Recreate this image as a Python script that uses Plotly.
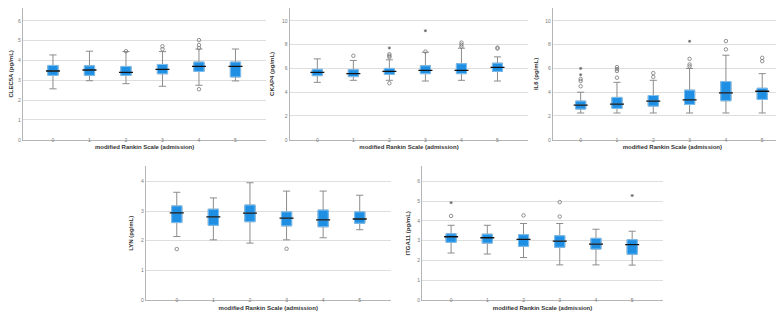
import plotly.graph_objects as go

CATS = [0, 1, 2, 3, 4, 5]
TICK_LABELS = ["0", "1", "2", "3", "4", "5"]
X_TITLE = "modified Rankin Scale (admission)"

# CLEC5A
CLEC5A_LO = [2.57, 2.98, 2.83, 2.70, 2.75, 2.97]
CLEC5A_Q1 = [3.25, 3.25, 3.25, 3.33, 3.45, 3.17]
CLEC5A_MED = [3.47, 3.52, 3.40, 3.55, 3.70, 3.70]
CLEC5A_Q3 = [3.75, 3.73, 3.70, 3.80, 3.92, 3.92]
CLEC5A_HI = [4.28, 4.47, 4.45, 4.45, 4.58, 4.58]
CLEC5A_OUT_X = [2, 3, 3, 4, 4, 4, 4]
CLEC5A_OUT_Y = [4.47, 4.72, 4.57, 5.03, 4.78, 4.63, 2.55]
CLEC5A_EXT_X = []
CLEC5A_EXT_Y = []

# CKAP4
CKAP4_LO = [4.83, 5.00, 5.00, 4.94, 5.00, 4.94]
CKAP4_Q1 = [5.39, 5.31, 5.50, 5.56, 5.56, 5.75]
CKAP4_MED = [5.67, 5.56, 5.75, 5.83, 5.83, 6.08]
CKAP4_Q3 = [5.92, 5.89, 6.00, 6.22, 6.39, 6.44]
CKAP4_HI = [6.80, 6.67, 6.72, 7.36, 7.70, 6.97]
CKAP4_OUT_X = [1, 2, 2, 2, 2, 3, 4, 4, 4, 5, 5]
CKAP4_OUT_Y = [7.06, 7.19, 7.06, 6.94, 4.75, 7.42, 8.17, 8.00, 7.83, 7.75, 7.67]
CKAP4_EXT_X = [2, 3]
CKAP4_EXT_Y = [7.72, 9.17]

# IL6
IL6_LO = [2.25, 2.25, 2.25, 2.25, 2.25, 2.25]
IL6_Q1 = [2.58, 2.64, 2.83, 2.97, 3.28, 3.39]
IL6_MED = [2.92, 3.00, 3.25, 3.36, 3.94, 4.08]
IL6_Q3 = [3.25, 3.56, 3.72, 4.17, 4.89, 4.33]
IL6_HI = [4.00, 4.83, 5.00, 6.00, 7.11, 5.56]
IL6_OUT_X = [0, 0, 0, 1, 1, 1, 1, 2, 2, 3, 3, 3, 4, 4, 5, 5]
IL6_OUT_Y = [5.11, 4.94, 4.50, 6.11, 5.94, 5.78, 5.22, 5.61, 5.28, 6.80, 6.33, 6.17, 8.30, 7.60, 6.89, 6.61]
IL6_EXT_X = [0, 0, 3]
IL6_EXT_Y = [6.00, 5.47, 8.28]

# LYN
LYN_LO = [2.14, 2.03, 1.92, 2.03, 2.10, 2.37]
LYN_Q1 = [2.61, 2.52, 2.64, 2.50, 2.47, 2.59]
LYN_MED = [2.94, 2.80, 2.93, 2.76, 2.70, 2.73]
LYN_Q3 = [3.17, 3.06, 3.20, 2.97, 3.03, 2.97]
LYN_HI = [3.63, 3.44, 3.95, 3.67, 3.67, 3.53]
LYN_OUT_X = [0, 3]
LYN_OUT_Y = [1.72, 1.73]
LYN_EXT_X = []
LYN_EXT_Y = []

# ITGA11
ITGA11_LO = [2.38, 2.33, 2.15, 1.78, 1.78, 1.77]
ITGA11_Q1 = [2.92, 2.88, 2.72, 2.67, 2.58, 2.32]
ITGA11_MED = [3.20, 3.15, 3.07, 2.98, 2.83, 2.80]
ITGA11_Q3 = [3.35, 3.33, 3.30, 3.25, 3.12, 3.05]
ITGA11_HI = [3.78, 3.78, 3.87, 3.87, 3.58, 3.48]
ITGA11_OUT_X = [0, 2, 3, 3]
ITGA11_OUT_Y = [4.25, 4.28, 4.95, 4.22]
ITGA11_EXT_X = [0, 5]
ITGA11_EXT_Y = [4.92, 5.28]

panels = [
    dict(title="CLEC5A (pg/mL)", lo=CLEC5A_LO, q1=CLEC5A_Q1, med=CLEC5A_MED, q3=CLEC5A_Q3, hi=CLEC5A_HI,
         ox=CLEC5A_OUT_X, oy=CLEC5A_OUT_Y, ex=CLEC5A_EXT_X, ey=CLEC5A_EXT_Y,
         xdom=[0.0162, 0.328], ydom=[0.575, 1.0], xr=[-0.83, 5.85], yr=[0, 6.65], yt=[0, 1, 2, 3, 4, 5, 6]),
    dict(title="CKAP4 (pg/mL)", lo=CKAP4_LO, q1=CKAP4_Q1, med=CKAP4_MED, q3=CKAP4_Q3, hi=CKAP4_HI,
         ox=CKAP4_OUT_X, oy=CKAP4_OUT_Y, ex=CKAP4_EXT_X, ey=CKAP4_EXT_Y,
         xdom=[0.3575, 0.663], ydom=[0.575, 1.0], xr=[-0.77, 5.86], yr=[0, 11.08], yt=[0, 2, 4, 6, 8, 10]),
    dict(title="IL6 (pg/mL)", lo=IL6_LO, q1=IL6_Q1, med=IL6_MED, q3=IL6_Q3, hi=IL6_HI,
         ox=IL6_OUT_X, oy=IL6_OUT_Y, ex=IL6_EXT_X, ey=IL6_EXT_Y,
         xdom=[0.694, 1.0], ydom=[0.575, 1.0], xr=[-0.77, 5.82], yr=[0, 11.08], yt=[0, 2, 4, 6, 8, 10]),
    dict(title="LYN (pg/mL)", lo=LYN_LO, q1=LYN_Q1, med=LYN_MED, q3=LYN_Q3, hi=LYN_HI,
         ox=LYN_OUT_X, oy=LYN_OUT_Y, ex=LYN_EXT_X, ey=LYN_EXT_Y,
         xdom=[0.1735, 0.487], ydom=[0.0575, 0.489], xr=[-0.85, 5.85], yr=[0, 4.5], yt=[0, 1, 2, 3, 4]),
    dict(title="ITGA11 (pg/mL)", lo=ITGA11_LO, q1=ITGA11_Q1, med=ITGA11_MED, q3=ITGA11_Q3, hi=ITGA11_HI,
         ox=ITGA11_OUT_X, oy=ITGA11_OUT_Y, ex=ITGA11_EXT_X, ey=ITGA11_EXT_Y,
         xdom=[0.527, 0.835], ydom=[0.0575, 0.489], xr=[-0.8, 5.85], yr=[0, 6.75], yt=[0, 1, 2, 3, 4, 5, 6]),
]

BOX_FILL = "#1f8fe3"
BOX_EDGE = "#7dc0f2"
WHISK = "#8c8c8c"
GRID = "#dedede"
AXIS = "#b5b5b5"
TICKF = dict(family="Liberation Sans, Arial", size=5, color="#7a7a7a")
TITLEF = dict(family="Liberation Sans, Arial", size=6, color="#333333")

fig = go.Figure()
layout = {}
for i, p in enumerate(panels):
    n = "" if i == 0 else str(i + 1)
    xa, ya = "x" + n, "y" + n
    # whiskers and caps (gray)
    fig.add_trace(go.Box(
        x=CATS, q1=p["q1"], median=p["med"], q3=p["q3"],
        lowerfence=p["lo"], upperfence=p["hi"],
        fillcolor=BOX_FILL, line=dict(color=WHISK, width=1),
        width=0.28, whiskerwidth=0.7, boxpoints=False, hoverinfo="skip",
        xaxis=xa, yaxis=ya, showlegend=False))
    # box body on top (blue with light-blue edge)
    fig.add_trace(go.Box(
        x=CATS, q1=p["q1"], median=p["med"], q3=p["q3"],
        lowerfence=p["q1"], upperfence=p["q3"],
        fillcolor=BOX_FILL, line=dict(color=BOX_EDGE, width=1),
        width=0.28, whiskerwidth=0, boxpoints=False, hoverinfo="skip",
        xaxis=xa, yaxis=ya, showlegend=False))
    fig.add_trace(go.Scatter(
        x=CATS, y=p["med"], mode="markers",
        marker=dict(symbol="line-ew", size=10, line=dict(color="#111111", width=1.3)),
        xaxis=xa, yaxis=ya, showlegend=False, hoverinfo="skip"))
    fig.add_trace(go.Scatter(
        x=p["ox"], y=p["oy"], mode="markers",
        marker=dict(symbol="circle-open", size=3.5, color="#777777", line=dict(width=0.8)),
        xaxis=xa, yaxis=ya, showlegend=False, hoverinfo="skip"))
    fig.add_trace(go.Scatter(
        x=p["ex"], y=p["ey"], mode="markers",
        marker=dict(symbol="asterisk-open", size=2.5, color="#666666", line=dict(width=0.8)),
        xaxis=xa, yaxis=ya, showlegend=False, hoverinfo="skip"))
    layout["xaxis" + n] = dict(
        domain=p["xdom"], anchor=ya, range=p["xr"], tickvals=CATS, ticktext=TICK_LABELS,
        showgrid=False, zeroline=False, showline=True, linecolor=AXIS, linewidth=1,
        ticks="", tickfont=TICKF, ticklabelstandoff=-5,
        title=dict(text="<b>" + X_TITLE + "</b>", font=TITLEF, standoff=3))
    layout["yaxis" + n] = dict(
        domain=p["ydom"], anchor=xa, range=p["yr"], tickvals=p["yt"],
        showgrid=True, gridcolor=GRID, gridwidth=1, zeroline=False,
        showline=True, linecolor=AXIS, linewidth=1, ticks="", tickfont=TICKF,
        ticklabelstandoff=0,
        title=dict(text="<b>" + p["title"] + "</b>", font=TITLEF, standoff=6))

fig.update_layout(
    width=784, height=313, margin=dict(l=0, r=0, t=0, b=0), boxmode="overlay",
    paper_bgcolor="white", plot_bgcolor="white", **layout)

fig.write_html("out.html")
